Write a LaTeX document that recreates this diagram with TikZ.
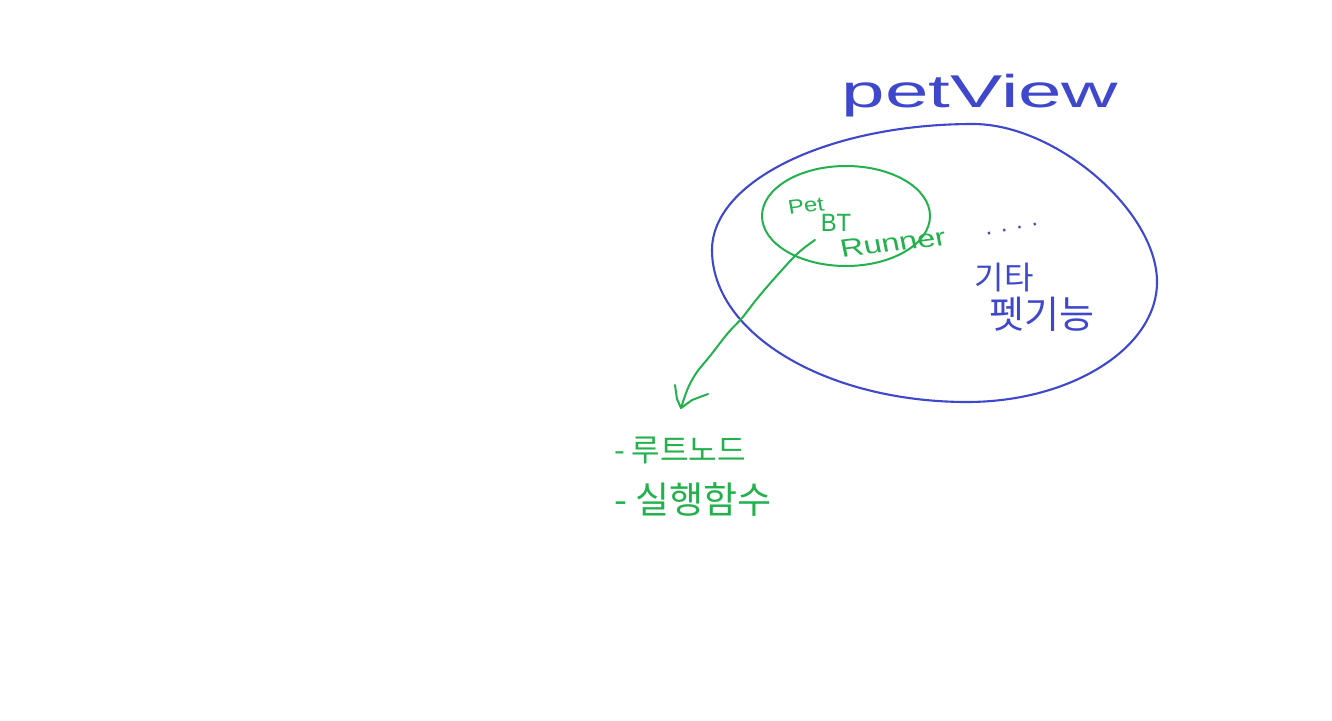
\documentclass[tikz,border=0pt]{standalone}
\usepackage{fontspec}
\setmainfont{Liberation Sans}
\newfontfamily\kr{Noto Sans CJK KR}
\definecolor{pblue}{HTML}{3F48CC}
\definecolor{pgreen}{HTML}{22B14C}
\begin{document}
\begin{tikzpicture}[x=1pt,y=-1pt,
  bluestroke/.style={draw=pblue, line width=2.1pt, line join=round},
  greenstroke/.style={draw=pgreen, line width=2pt, line join=round, line cap=round},
  bluetxt/.style={text=pblue, inner sep=0pt},
  greentxt/.style={text=pgreen, inner sep=0pt}]
\useasboundingbox[fill=white] (0,0) rectangle (1332,720);
% outer petView outline
\draw[bluestroke] (712,250) .. controls (712,181) and (829,124) .. (973,124)
  .. controls (1056,124) and (1157,211) .. (1157,282)
  .. controls (1157,348) and (1071,402) .. (967,402)
  .. controls (827,402) and (712,334) .. (712,250) -- cycle;
% inner Pet BT Runner outline
\draw[greenstroke] (846,216) ellipse [x radius=84pt, y radius=50pt];
% labels
\node[bluetxt, font=\fontsize{46}{50}\selectfont, xscale=1.7] (title) at (980,96) {petView};
\node[greentxt, font=\fontsize{20}{22}\selectfont, xscale=1.2, rotate=8] (pet) at (806,206) {Pet};
\node[greentxt, font=\fontsize{25}{30}\selectfont, xscale=0.95] (bt) at (836,223) {BT};
\node[greentxt, font=\fontsize{25}{30}\selectfont, xscale=1.3, rotate=9] (runner) at (893,243) {Runner};
\node[bluetxt, font=\fontsize{24}{26}\selectfont, rotate=12] (dots) at (1012,229) {. . . .};
\node[bluetxt, font=\kr\fontsize{32}{34}\selectfont] (etc1) at (1004,278) {기타};
\node[bluetxt, font=\kr\fontsize{38}{40}\selectfont] (etc2) at (1042,314) {펫기능};
\node[greentxt, font=\kr\fontsize{31}{34}\selectfont, anchor=west] (root) at (614,450) {-\ 루트노드};
\node[greentxt, font=\kr\fontsize{37}{40}\selectfont, anchor=west] (exec) at (614,500) {-\ 실행함수};
% connector
\coordinate (astart) at (815,240);
\coordinate (aend) at (681,408);
\draw[greenstroke] plot[smooth, tension=0.6] coordinates {
  (815,240) (797,254) (773,280) (756,300) (742,318) (728,333)
  (710,356) (697,372) (688,388) (681,408)};
\draw[greenstroke] (aend) -- (677,399) -- (675,385);
\draw[greenstroke] (aend) -- (692,400) -- (708,394);
\end{tikzpicture}
\end{document}
